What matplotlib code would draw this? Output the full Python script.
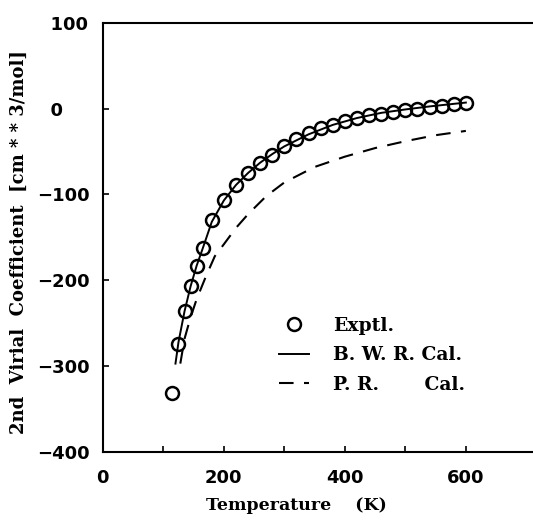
import matplotlib
matplotlib.use("Agg")
import matplotlib.pyplot as plt
from matplotlib.ticker import MultipleLocator, FixedLocator

# 実測値 (Exptl.)
exp_T = [115, 125, 135, 145, 155, 165, 180, 200, 220, 240, 260, 280, 300, 320,
         340, 360, 380, 400, 420, 440, 460, 480, 500, 520, 540, 560, 580, 600]
exp_B = [-331, -274, -236, -207, -183, -162, -130, -106, -89, -75, -63, -54, -44, -36,
         -29, -23, -19, -14, -11, -8, -6, -4, -2, 0, 1.5, 3.5, 5.5, 7]

# B.W.R. 計算値
bwr_T = [120, 125, 135, 145, 155, 165, 180, 200, 220, 240, 260, 280, 300, 340,
         380, 420, 460, 500, 540, 580, 600]
bwr_B = [-297, -272, -236, -207, -183, -163, -132, -107, -89, -75, -63, -53, -44, -30,
         -19, -11, -5, -1, 2.5, 5.5, 7]

# P.R. 計算値
pr_T = [128, 135, 145, 155, 170, 185, 200, 220, 240, 270, 300, 350, 400, 450, 500, 550, 600]
pr_B = [-297, -268, -243, -222, -196, -172, -158, -139, -123, -102, -86, -68, -56, -46,
        -38, -31, -26]

# 縦軸目盛
y_ticks = [100, 0, -100, -200, -300, -400]

fig = plt.figure(figsize=(5.33, 5.22), dpi=100)
ax = fig.add_axes([0.193, 0.134, 0.807, 0.8225])

ax.plot(bwr_T, bwr_B, color='black', lw=1.4, label='B. W. R. Cal.', zorder=2)
ax.plot(pr_T, pr_B, color='black', lw=1.5, dashes=(7, 5), label='P. R.       Cal.', zorder=2)
ax.plot(exp_T, exp_B, 'o', ms=9.3, mfc='none', mec='black', mew=1.8,
        label='Exptl.', zorder=3)

ax.set_xlim(0, 711)
ax.set_ylim(-400, 100)
ax.xaxis.set_major_locator(MultipleLocator(200))
ax.xaxis.set_minor_locator(FixedLocator([100, 300, 500]))

# 数字の左端をそろえる (正の値は数字幅の空白を前に付ける)
ax.set_yticks(y_ticks)
ax.set_yticklabels([('\u2212%d' % -v) if v < 0 else ('\u2007%d' % v) for v in y_ticks],
                   ha='left')

ax.spines['right'].set_visible(False)
for s in ['left', 'bottom', 'top']:
    ax.spines[s].set_linewidth(1.5)

ax.tick_params(axis='both', which='both', direction='in', length=4, width=1.2,
               top=False, right=False)
ax.tick_params(axis='x', which='major', pad=12)
ax.tick_params(axis='y', which='major', pad=47)
for lab in ax.get_xticklabels() + ax.get_yticklabels():
    lab.set_fontfamily('DejaVu Sans')
    lab.set_fontweight('bold')
    lab.set_fontsize(13)

ax.set_xlabel('Temperature    (K)', family='DejaVu Serif', fontweight='bold', fontsize=12.5)
ax.xaxis.set_label_coords(0.45, -0.105)

ax.set_ylabel('2nd  Virial  Coefficient  [cm * * 3/mol]', family='DejaVu Serif',
              fontweight='bold', fontsize=13)
ax.yaxis.set_label_coords(-0.174, 0.49)

h, l = ax.get_legend_handles_labels()
order = [2, 0, 1]
leg = ax.legend([h[i] for i in order], [l[i] for i in order], frameon=False,
                loc='upper left', bbox_to_anchor=(0.37, 0.355), handlelength=1.6,
                handletextpad=1.3, labelspacing=0.62,
                prop={'family': 'DejaVu Serif', 'weight': 'bold', 'size': 13.5})

fig.savefig('out.png', dpi=100)
